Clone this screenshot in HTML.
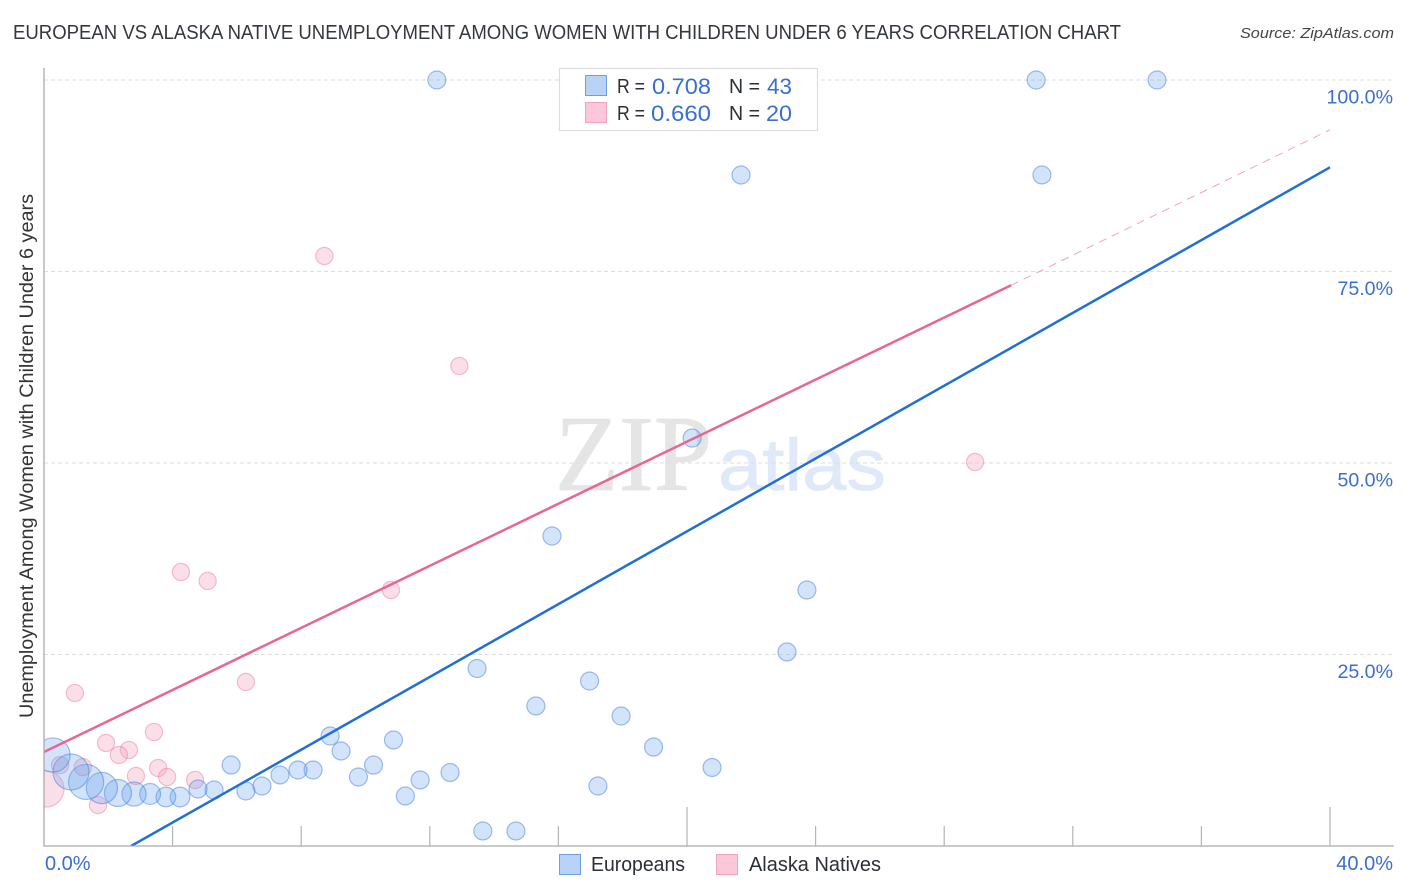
<!DOCTYPE html>
<html lang="en">
<head>
<meta charset="utf-8">
<title>European vs Alaska Native Unemployment Chart</title>
<style>
html,body{margin:0;padding:0;background:#fff;width:1406px;height:892px;overflow:hidden}
svg{display:block;font-family:"Liberation Sans",sans-serif}
</style>
</head>
<body>
<svg id="chart" width="1406" height="892" viewBox="0 0 1406 892" xmlns="http://www.w3.org/2000/svg">
  <defs><clipPath id="plot-clip"><rect x="44" y="60" width="1350" height="786"/></clipPath></defs>
  <text x="13" y="39" font-size="20" fill="#33373e" textLength="1108" lengthAdjust="spacingAndGlyphs">EUROPEAN VS ALASKA NATIVE UNEMPLOYMENT AMONG WOMEN WITH CHILDREN UNDER 6 YEARS CORRELATION CHART</text>
  <text x="1394" y="38" font-size="15" font-style="italic" fill="#444" text-anchor="end" textLength="154" lengthAdjust="spacingAndGlyphs">Source: ZipAtlas.com</text>
  <g>
    <text x="555" y="490" font-family="'Liberation Serif',serif" font-size="108" fill="#e5e5e5" stroke="#e5e5e5" stroke-width="0.8" textLength="157" lengthAdjust="spacingAndGlyphs">ZIP</text>
    <text x="718" y="490" font-size="73" fill="#dfe9f9" stroke="#dfe9f9" stroke-width="0.8" textLength="168" lengthAdjust="spacingAndGlyphs">atlas</text>
  </g>
  <g id="grid"></g>
  <g id="points" clip-path="url(#plot-clip)"></g>
  <g id="trends" clip-path="url(#plot-clip)"></g>
  <g id="axes"></g>
  <text transform="translate(33,456) rotate(-90)" font-size="19" fill="#333" text-anchor="middle" textLength="524" lengthAdjust="spacingAndGlyphs">Unemployment Among Women with Children Under 6 years</text>
  <g>
    <rect x="559.5" y="68.5" width="258" height="62" fill="#fff" stroke="#ddd" stroke-width="1.2"/>
    <rect x="585.5" y="75.5" width="21" height="20" fill="#b9d3f7" stroke="#6ea0e4" stroke-width="1"/>
    <rect x="585.5" y="102.5" width="21" height="20" fill="#fcc8d9" stroke="#f4a3bd" stroke-width="1"/>
    <text x="617" y="93" font-size="20" fill="#2b2f36" textLength="28" lengthAdjust="spacingAndGlyphs">R =</text>
    <text x="652" y="94" font-size="22" fill="#3a6fd0" textLength="59" lengthAdjust="spacingAndGlyphs">0.708</text>
    <text x="729" y="93" font-size="20" fill="#2b2f36" textLength="31" lengthAdjust="spacingAndGlyphs">N =</text>
    <text x="767" y="94" font-size="22" fill="#3a6fd0" textLength="25" lengthAdjust="spacingAndGlyphs">43</text>
    <text x="617" y="120" font-size="20" fill="#2b2f36" textLength="28" lengthAdjust="spacingAndGlyphs">R =</text>
    <text x="651" y="121" font-size="22" fill="#3a6fd0" textLength="60" lengthAdjust="spacingAndGlyphs">0.660</text>
    <text x="729" y="120" font-size="20" fill="#2b2f36" textLength="31" lengthAdjust="spacingAndGlyphs">N =</text>
    <text x="766" y="121" font-size="22" fill="#3a6fd0" textLength="26" lengthAdjust="spacingAndGlyphs">20</text>
  </g>
  <g>
    <g>
      <rect x="559.5" y="854.5" width="21" height="20" fill="#b9d3f7" stroke="#6ea0e4" stroke-width="1"/>
      <text x="591" y="871" font-size="20" fill="#2b2f36" textLength="94" lengthAdjust="spacingAndGlyphs">Europeans</text>
    </g>
    <g>
      <rect x="716.5" y="854.5" width="21" height="20" fill="#fcc8d9" stroke="#f4a3bd" stroke-width="1"/>
      <text x="749" y="871" font-size="20" fill="#2b2f36" textLength="132" lengthAdjust="spacingAndGlyphs">Alaska Natives</text>
    </g>
  </g>
</svg>
<script>
const europeansX = [12.22,30.86,34.62,21.68,31.04,20.16,15.80,23.73,23.11,13.47,16.97,15.30,17.95,18.96,20.78,17.23,10.87,8.90,9.24,10.25,9.78,11.70,12.63,11.24,13.65,14.68,5.82,8.37,7.90,7.34,6.78,6.28,5.29,4.79,4.23,3.79,3.30,2.80,2.30,1.80,1.31,0.84,0.28];
const europeansY = [100,100,100,87.6,87.6,53.26,40.47,33.42,25.33,23.17,21.54,18.28,16.97,12.92,10.25,7.83,13.84,14.36,12.40,10.57,9.01,8.62,9.60,6.53,1.96,1.96,10.57,9.92,9.92,9.27,7.83,7.18,7.31,7.44,6.40,6.40,6.79,6.79,6.92,7.57,8.36,9.66,11.88];
const europeansWeight = [1,1,1,1,1,1,1,1,1,1,1,1,1,1,1,1,1,1,1,1,1,1,1,1,1,1,1,1,1,1,1,1,1,1,1.2,1.2,1.35,1.8,2.25,3,3.8,4,3.6];
const alaskaNativesX = [0.96,6.28,3.42,1.93,2.64,2.33,0.50,1.21,3.55,2.86,3.83,4.70,1.68,0.06,4.26,5.09,8.72,12.92,10.79,28.96];
const alaskaNativesY = [19.97,21.41,14.88,13.45,12.53,11.88,10.57,10.31,10.18,9.14,9.01,8.62,5.35,7.44,35.77,34.60,77.02,62.66,33.42,50.13];
const alaskaNativesWeight = [1,1,1,1,1,1,1,1,1,1,1,1,1,4.2,1,1,1,1,1,1];
const europeansTrendX = [2.71,40];
const europeansTrendY = [0,88.6];
const alaskaTrendX = [0,30.08];
const alaskaTrendY = [12.27,73.2];
const alaskaExtensionX = [30.08,40];
const alaskaExtensionY = [73.2,93.5];
const xTicks = [0,4,8,12,16,20,24,28,32,36,40];
const xMajorTicks = [20,40];
const xTickLabels = ["0.0%","40.0%"];
const yTicks = [100,75,50,25];
const yTickLabels = ["100.0%","75.0%","50.0%","25.0%"];

const NS = 'http://www.w3.org/2000/svg';
const xScale = v => 44 + v * (1330 - 44) / 40;
const yScale = v => 846 - v * (846 - 80) / 100;
const rScale = w => 9 * Math.sqrt(w);
const gridG = document.getElementById('grid');
const axesG = document.getElementById('axes');
const pointsG = document.getElementById('points');
const trendsG = document.getElementById('trends');

function make(tag, attrs, parent) {
  const el = document.createElementNS(NS, tag);
  for (const k in attrs) el.setAttribute(k, attrs[k]);
  parent.appendChild(el);
  return el;
}

yTicks.forEach((t, i) => {
  const line = make('line', {x1: 44, x2: 1393, y1: yScale(t), y2: yScale(t), stroke: '#dedede', 'stroke-width': 1, 'stroke-dasharray': '4 3'}, gridG);
  
  
  const label = make('text', {x: 1393, y: yScale(t) + 23.4, 'font-size': 19.6, fill: '#3a6fd0', 'text-anchor': 'end'}, axesG);
  label.textContent = yTickLabels[i];
  
  
});

const yAxis = make('line', {x1: 44, x2: 44, y1: 68, y2: 846.5, stroke: '#aaa', 'stroke-width': 1.3}, axesG);


const xAxis = make('line', {x1: 44, x2: 1394, y1: 846, y2: 846, stroke: '#aaa', 'stroke-width': 1.3}, axesG);



xTicks.forEach(t => {
  if (t === 0) return;
  const top = xMajorTicks.includes(t) ? 807 : 826;
  const tick = make('line', {x1: xScale(t), x2: xScale(t), y1: top, y2: 846, stroke: '#b4b4b4', 'stroke-width': 1.2}, axesG);
  
  
});

const xLabelLeft = make('text', {x: xScale(xTicks[0]) + 1, y: 870, 'font-size': 20, fill: '#3a6fd0'}, axesG);
xLabelLeft.textContent = xTickLabels[0];


const xLabelRight = make('text', {x: 1393, y: 870, 'font-size': 20, fill: '#3a6fd0', 'text-anchor': 'end'}, axesG);
xLabelRight.textContent = xTickLabels[1];



alaskaNativesX.forEach((v, i) => {
  const c = make('circle', {cx: xScale(v), cy: yScale(alaskaNativesY[i]), r: rScale(alaskaNativesWeight[i]) - 0.4, fill: 'rgba(245,165,190,0.36)', stroke: 'rgba(232,125,160,0.48)', 'stroke-width': 1.2}, pointsG);
  
  
});
europeansX.forEach((v, i) => {
  const c = make('circle', {cx: xScale(v), cy: yScale(europeansY[i]), r: rScale(europeansWeight[i]), fill: 'rgba(110,165,240,0.31)', stroke: 'rgba(50,120,215,0.46)', 'stroke-width': 1.2}, pointsG);
  
  
});

const ext = make('line', {x1: xScale(alaskaExtensionX[0]), y1: yScale(alaskaExtensionY[0]), x2: xScale(alaskaExtensionX[1]), y2: yScale(alaskaExtensionY[1]), stroke: '#eba5bd', 'stroke-width': 1, 'stroke-dasharray': '8 6'}, trendsG);


const pinkLine = make('line', {x1: xScale(alaskaTrendX[0]), y1: yScale(alaskaTrendY[0]), x2: xScale(alaskaTrendX[1]), y2: yScale(alaskaTrendY[1]), stroke: '#e8668f', 'stroke-width': 2.5}, trendsG);


const blueLine = make('line', {x1: xScale(europeansTrendX[0]), y1: yScale(europeansTrendY[0]), x2: xScale(europeansTrendX[1]), y2: yScale(europeansTrendY[1]), stroke: '#1f6fd6', 'stroke-width': 2.5}, trendsG);


</script>
</body>
</html>
